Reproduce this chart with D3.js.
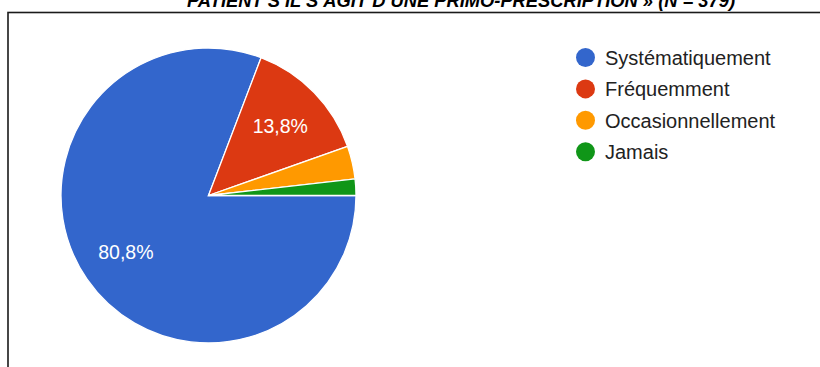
<!DOCTYPE html>
<html>
<head>
<meta charset="utf-8">
<script src="https://d3js.org/d3.v7.min.js"></script>
<style>
    body { margin: 0; background: #fff; }
    svg { display: block; }
</style>
</head>
<body>
<div id="chart"></div>
<script>
    // data
    var categories = ['Systématiquement', 'Fréquemment', 'Occasionnellement', 'Jamais'];
    var values = [80.8, 13.8, 3.6, 1.8];
    var colors = ['#3366cc', '#dc3912', '#ff9900', '#109618'];
    var title = 'PATIENT S\u2019IL S\u2019AGIT D\u2019UNE PRIMO-PRESCRIPTION \u00BB (N = 379)';

    var width = 820, height = 367;
    var cx = 208.5, cy = 195.5, radius = 147.5;

    var svg = d3.select('#chart').append('svg')
        .attr('width', width)
        .attr('height', height);

    // title (cut off at top in the original)
    svg.append('text')
        .attr('x', 461)
        .attr('y', 6.5)
        .attr('text-anchor', 'middle')
        .attr('textLength', 548)
        .attr('lengthAdjust', 'spacingAndGlyphs')
        .style('font-family', 'Arial, "Liberation Sans", sans-serif')
        .style('font-weight', 'bold')
        .style('font-style', 'italic')
        .style('font-size', '19px')
        .style('fill', '#000')
        .text(title);

    // frame
    svg.append('rect')
        .attr('x', 8)
        .attr('y', 12.5)
        .attr('width', 830)
        .attr('height', 400)
        .attr('fill', 'none')
        .attr('stroke', '#1a1a1a')
        .attr('stroke-width', 1.6);

    var pie = d3.pie()
        .sort(null)
        .startAngle(Math.PI / 2)
        .endAngle(Math.PI / 2 + 2 * Math.PI);

    var arcs = pie(values);

    var arc = d3.arc().innerRadius(0).outerRadius(radius);
    var labelArc = d3.arc().innerRadius(radius * 0.68).outerRadius(radius * 0.68);

    var g = svg.append('g').attr('transform', 'translate(' + cx + ',' + cy + ')');

    g.selectAll('path')
        .data(arcs)
        .enter().append('path')
            .attr('d', arc)
            .attr('fill', function(d, i) { return colors[i]; })
            .attr('stroke', '#fff')
            .attr('stroke-width', 1.3);

    g.selectAll('text')
        .data(arcs.filter(function(d) { return d.value >= 10; }))
        .enter().append('text')
            .attr('transform', function(d) { return 'translate(' + labelArc.centroid(d) + ')'; })
            .attr('text-anchor', 'middle')
            .attr('dy', '0.36em')
            .style('font-family', 'Arial, "Liberation Sans", sans-serif')
            .style('font-size', '19.5px')
            .style('fill', '#fff')
            .text(function(d) { return d3.format('.1f')(d.value).replace('.', ',') + '%'; });

    // legend
    var legend = svg.append('g').attr('transform', 'translate(585.5,57.5)');
    var rows = legend.selectAll('g')
        .data(categories)
        .enter().append('g')
            .attr('transform', function(d, i) { return 'translate(0,' + (i * 31.4) + ')'; });

    rows.append('circle')
        .attr('r', 9.5)
        .attr('fill', function(d, i) { return colors[i]; });

    rows.append('text')
        .attr('x', 19.5)
        .attr('dy', '0.36em')
        .style('font-family', 'Arial, "Liberation Sans", sans-serif')
        .style('font-size', '20px')
        .style('fill', '#222')
        .text(function(d) { return d; });
</script>
</body>
</html>
